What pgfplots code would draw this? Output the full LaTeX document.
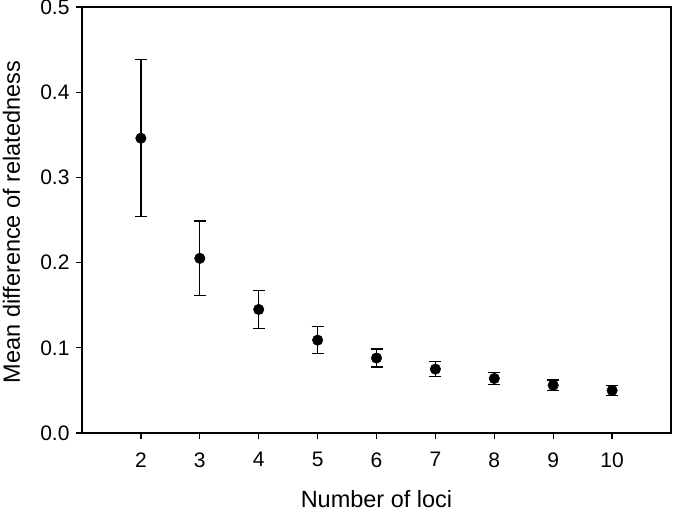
\documentclass[border=0pt]{standalone}
\usepackage{pgfplots}
\pgfplotsset{compat=1.18}
\usepackage{fontspec}
\setmainfont{Liberation Sans}
\begin{document}
\begin{tikzpicture}
\useasboundingbox (-82bp,-77bp) rectangle (591bp,433bp);
\begin{axis}[
  at={(0,0)}, anchor=south west,
  scale only axis, width=589bp, height=426bp,
  xmin=1, xmax=11, ymin=0, ymax=0.5,
  xtick={2,3,4,5,6,7,8,9,10},
  ytick={0,0.1,0.2,0.3,0.4,0.5},
  xtick pos=bottom, ytick pos=left,
  tick align=outside, major tick length=6bp,
  /pgf/number format/assume math mode=true,
  yticklabel style={xshift=-3bp, /pgf/number format/fixed, /pgf/number format/fixed zerofill, /pgf/number format/precision=1},
  ticklabel style={font=\fontsize{21bp}{24bp}\selectfont},
  xticklabel style={yshift=-10bp},
  axis line style={line width=1.3bp},
  tick style={line width=1.3bp, black},
  xlabel={Number of loci},
  ylabel={Mean difference of relatedness},
  every axis x label/.style={at={(axis description cs:0.5,0)}, anchor=base, inner sep=0pt, yshift=-74bp, font=\fontsize{23.5bp}{27bp}\selectfont},
  every axis y label/.style={at={(axis description cs:0,0.5)}, xshift=-62bp, yshift=-2bp, rotate=90, anchor=base, inner sep=0pt, font=\fontsize{23.5bp}{27bp}\selectfont},
]
\addplot[only marks, mark=*, mark size=5.3bp, black,
  error bars/.cd, y dir=both, y explicit,
  error bar style={line width=1.3bp, black},
  error mark options={rotate=90, mark size=6bp, line width=1.3bp, black}]
  table[x=x, y=y, y error=e] {
x y e
2 0.346 0.092
3 0.205 0.044
4 0.145 0.022
5 0.109 0.016
6 0.088 0.0105
7 0.075 0.009
8 0.064 0.0068
9 0.056 0.0063
10 0.050 0.006
};
\end{axis}
\end{tikzpicture}
\end{document}
